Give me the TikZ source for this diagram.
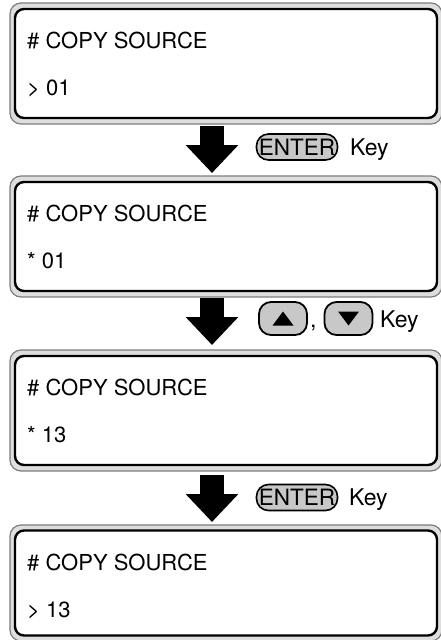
\documentclass[tikz,border=0pt]{standalone}
\usepackage{fontspec}
\setmainfont{TeX Gyre Heros}
\usetikzlibrary{arrows.meta}

\definecolor{panelgray}{RGB}{222,222,222}
\definecolor{rimgray}{RGB}{125,125,125}
\definecolor{keygray}{RGB}{200,200,200}

\begin{document}
\begin{tikzpicture}[
			x = 1pt, y = -1pt, % pixel grid, y downwards
			font = \fontsize{22}{26}\selectfont,
			panel/.style = {draw = rimgray, fill = panelgray, line width = 1.2pt,
				rounded corners = 11pt, minimum width = 432pt, inner sep = 0pt},
			screen/.style = {draw = black, fill = white, line width = 2.4pt,
				rounded corners = 9pt, minimum width = 422pt, inner sep = 0pt},
			line/.style = {anchor = base west, inner sep = 0pt},
			down/.style = {line width = 24pt, -{Triangle[width = 51pt, length = 28pt]}},
			enterkey/.style = {draw = black, fill = keygray, line width = 1.6pt,
				rounded corners = 12pt, minimum width = 81pt, minimum height = 26pt,
				inner sep = 0pt, font = \fontsize{22.5}{24}\selectfont},
			arrowkey/.style = {draw = black, fill = keygray, line width = 1.8pt,
				rounded corners = 12pt, minimum width = 48pt, minimum height = 33pt, inner sep = 0pt},
			keylabel/.style = {anchor = base west, inner sep = 0pt, font = \fontsize{23}{25}\selectfont}
			]
			
			\useasboundingbox (0,0) rectangle (440,640);
			
			% displays
			\node[panel, minimum height = 121pt] (p1) at (226,63.5) {};
			\node[screen, minimum height = 109pt] (s1) at (p1) {};
			\node[line] (t1) at (27,48) {\# COPY SOURCE};
			\node[line] (v1) at (27,95) {> 01};
			
			\node[panel, minimum height = 121pt] (p2) at (226,236.5) {};
			\node[screen, minimum height = 109pt] (s2) at (p2) {};
			\node[line] (t2) at (27,221) {\# COPY SOURCE};
			\node[line] (v2) at (27,268) {* 01};
			
			\node[panel, minimum height = 121pt] (p3) at (226,410.5) {};
			\node[screen, minimum height = 109pt] (s3) at (p3) {};
			\node[line] (t3) at (27,395) {\# COPY SOURCE};
			\node[line] (v3) at (27,442) {* 13};
			
			\node[panel, minimum height = 116pt] (p4) at (226,583) {};
			\node[screen, minimum height = 105pt] (s4) at (p4) {};
			\node[line] (t4) at (27,570) {\# COPY SOURCE};
			\node[line] (v4) at (27,617) {> 13};
			
			% steps
			\coordinate (a1) at (212,126);
			\coordinate (b1) at (212,173);
			\coordinate (a2) at (212,298);
			\coordinate (b2) at (212,345);
			\coordinate (a3) at (212,475);
			\coordinate (b3) at (212,522);
			\draw[down] (a1) -- (b1);
			\draw[down] (a2) -- (b2);
			\draw[down] (a3) -- (b3);
			
			% keys
			\node[enterkey] (enter1) at (297,147) {ENTER};
			\node[keylabel] (key1) at (350,155) {Key};
			
			\node[arrowkey] (up) at (283,318.5) {};
			\node[arrowkey] (dn) at (348.5,318.5) {};
			\fill (up) ++(-10.5,7) -- ++(21,0) -- ++(-10.5,-14) -- cycle;
			\fill (dn) ++(-10.5,-7) -- ++(21,0) -- ++(-10.5,14) -- cycle;
			\node[keylabel] (comma) at (310,327) {,};
			\node[keylabel] (key2) at (380,327) {Key};
			
			\node[enterkey] (enter2) at (297,497.5) {ENTER};
			\node[keylabel] (key3) at (349,505) {Key};
		\end{tikzpicture}
\end{document}
